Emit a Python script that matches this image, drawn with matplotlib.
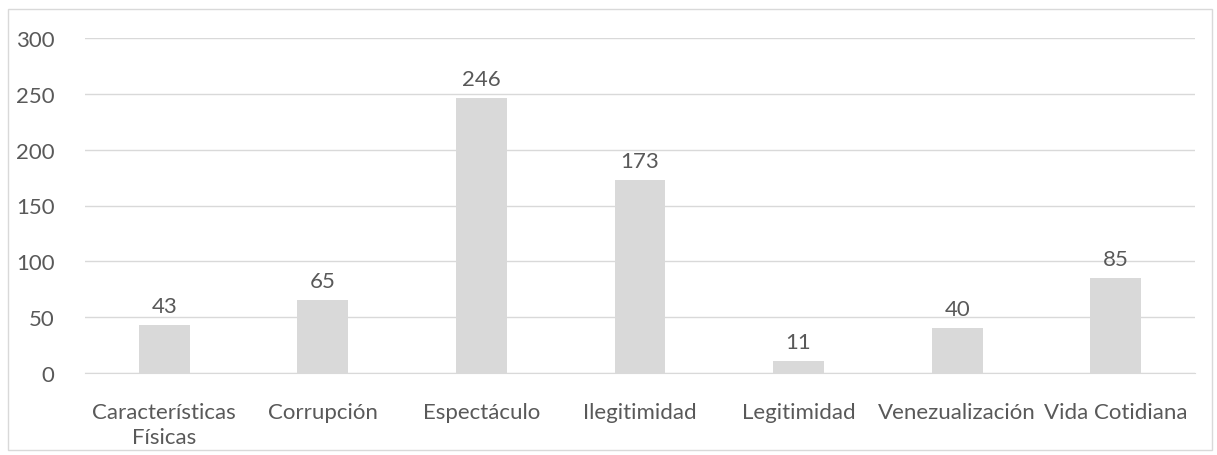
import matplotlib.pyplot as plt
from matplotlib.patches import Rectangle

categories = ['Características\nFísicas', 'Corrupción', 'Espectáculo', 'Ilegitimidad',
              'Legitimidad', 'Venezualización', 'Vida Cotidiana']
values = [43, 65, 246, 173, 11, 40, 85]
yticks = [0, 50, 100, 150, 200, 250, 300]

plt.rcParams['font.family'] = ['Lato', 'DejaVu Sans']
txt = '#595959'
fs = 16

fig = plt.figure(figsize=(12.17, 4.56), dpi=100)
# outer chart border
fig.patches.append(Rectangle((8 / 1217, 5 / 456), 1204 / 1217, 441 / 456,
                             transform=fig.transFigure, fill=False,
                             edgecolor='#d9d9d9', linewidth=1))

ax = fig.add_axes([85 / 1217, (456 - 374) / 456, 1110 / 1217, 335 / 456])
x = range(len(categories))
ax.bar(x, values, width=0.32, color='#d9d9d9', zorder=2)
for i, v in zip(x, values):
    ax.text(i, v + 8, str(v), ha='center', va='bottom', fontsize=fs, color=txt)

ax.set_xlim(-0.5, len(categories) - 0.5)
ax.set_ylim(0, 300)
ax.set_yticks(yticks)
ax.set_xticks(list(x))
ax.set_xticklabels(categories, fontsize=fs, color=txt, linespacing=1.3)
ax.tick_params(axis='y', labelsize=fs, labelcolor=txt, length=0, pad=22)
ax.tick_params(axis='x', length=0, pad=21)
ax.grid(axis='y', color='#d9d9d9', linewidth=1, zorder=0)
for s in ['top', 'right', 'left']:
    ax.spines[s].set_visible(False)
ax.spines['bottom'].set_color('#d9d9d9')

fig.savefig('out.png', dpi=100)
